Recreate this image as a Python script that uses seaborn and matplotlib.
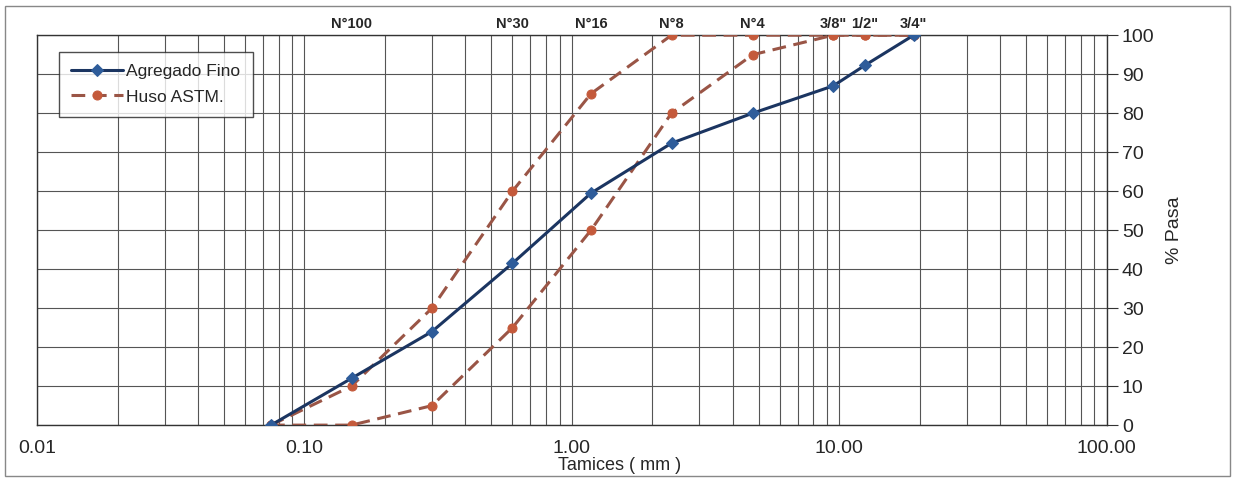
import numpy as np
import pandas as pd
import matplotlib
matplotlib.use("Agg")
import matplotlib.pyplot as plt
import seaborn as sns
from matplotlib.ticker import FixedLocator, FixedFormatter, LogLocator, NullFormatter
from matplotlib.patches import Rectangle

sns.set_style("white")
plt.rcParams['font.family'] = ['Liberation Sans', 'DejaVu Sans']

# ---- data ----
aberturas_mm = [0.075, 0.15, 0.30, 0.60, 1.18, 2.36, 4.75, 9.5, 12.5, 19.0]
agregado_fino = [0, 12, 24, 41.5, 59.5, 72.3, 80, 87, 92.3, 100]
huso_superior = [0, 10, 30, 60, 85, 100, 100, 100, 100, 100]
huso_inferior = [0, 0, 5, 25, 50, 80, 95, 100, 100, 100]

tamiz_pos = [0.15, 0.60, 1.18, 2.36, 4.75, 9.5, 12.5, 19.0]
tamiz_lbl = ["N°100", "N°30", "N°16", "N°8", "N°4", '3/8"', '1/2"', '3/4"']

xticks = [0.01, 0.1, 1, 10, 100]
xtick_lbl = ["0.01", "0.10", "1.00", "10.00", "100.00"]
yticks = list(range(0, 101, 10))

df_ag = pd.DataFrame({"x": aberturas_mm, "y": agregado_fino})
df_sup = pd.DataFrame({"x": aberturas_mm, "y": huso_superior})
df_inf = pd.DataFrame({"x": aberturas_mm, "y": huso_inferior})

fig = plt.figure(figsize=(12.35, 4.82), dpi=100)
ax = fig.add_axes([0.030, 0.118, 0.866, 0.809])

blue_line = "#1b3561"
blue_mk = "#2e5c9a"
red_line = "#9a5546"
red_mk = "#c45a3b"

sns.lineplot(data=df_ag, x="x", y="y", ax=ax, color=blue_line, lw=2.2,
             marker="D", markersize=6.5, markerfacecolor=blue_mk,
             markeredgecolor=blue_mk, label="Agregado Fino", zorder=4)
sns.lineplot(data=df_sup, x="x", y="y", ax=ax, color=red_line, lw=2.2,
             marker="o", markersize=6.5, markerfacecolor=red_mk,
             markeredgecolor=red_mk, label="Huso ASTM.", zorder=3)
sns.lineplot(data=df_inf, x="x", y="y", ax=ax, color=red_line, lw=2.2,
             marker="o", markersize=6.5, markerfacecolor=red_mk,
             markeredgecolor=red_mk, label="_nolegend_", zorder=3)
for ln in ax.get_lines()[1:]:
    ln.set_linestyle((0, (4.5, 2.5)))

ax.set_xscale("log")
ax.set_xlim(0.01, 100)
ax.set_ylim(0, 100)

# grid
ax.xaxis.set_major_locator(FixedLocator(xticks))
ax.xaxis.set_major_formatter(FixedFormatter(xtick_lbl))
ax.xaxis.set_minor_locator(LogLocator(base=10, subs=np.arange(2, 10)))
ax.xaxis.set_minor_formatter(NullFormatter())
ax.grid(True, which="both", axis="x", color="#555555", lw=0.8)
ax.set_yticks(yticks)
ax.grid(True, which="major", axis="y", color="#555555", lw=0.8)
ax.set_axisbelow(True)

for sp in ax.spines.values():
    sp.set_color("#333333")
    sp.set_linewidth(1.0)

ax.tick_params(axis="x", which="both", length=0, pad=11, labelsize=14)
ax.yaxis.tick_right()
ax.yaxis.set_label_position("right")
ax.tick_params(axis="y", which="major", length=8, width=0.8, color="#333333",
               direction="out", pad=3, labelsize=14, right=True, left=False)

ax.set_xlabel("Tamices ( mm )", fontsize=13, labelpad=0)
ax.xaxis.set_label_coords(0.545, -0.083)
ax.set_ylabel("% Pasa", fontsize=14, labelpad=8)

# top sieve labels
sec = ax.secondary_xaxis("top")
sec.set_xticks(tamiz_pos)
sec.set_xticklabels(tamiz_lbl, fontsize=10.5, fontweight="bold")
sec.xaxis.set_minor_locator(FixedLocator([]))
sec.tick_params(axis="x", length=0, pad=3)
sec.spines["top"].set_visible(False)

leg = ax.legend(loc="upper left", bbox_to_anchor=(0.012, 0.98), fontsize=12.5,
                frameon=True, fancybox=False, edgecolor="#222222",
                handlelength=3.0, borderpad=0.7, labelspacing=0.6,
                handletextpad=0.2)
leg.get_frame().set_linewidth(1.0)

fig.patches.append(Rectangle((0.004, 0.012), 0.992, 0.975, transform=fig.transFigure,
                             fill=False, edgecolor="#888888", lw=1.0))

fig.savefig("out.png", dpi=100)
